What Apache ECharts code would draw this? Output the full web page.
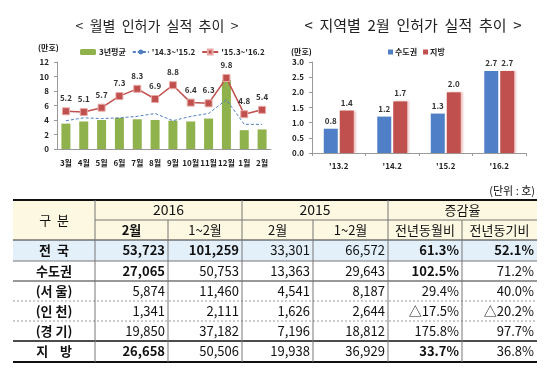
<!DOCTYPE html>
<html><head><meta charset="utf-8">
<script src="https://cdn.jsdelivr.net/npm/echarts@6/dist/echarts.min.js"></script>
<style>html,body{margin:0;padding:0;background:#fff}#c{width:560px;height:370px}</style>
</head><body><div id="c"></div>
<script>
// ---- Left chart data ----
const months = ['3월','4월','5월','6월','7월','8월','9월','10월','11월','12월','1월','2월'];
const avg3y = [3.5, 3.8, 4.0, 4.3, 4.1, 4.0, 3.9, 3.8, 4.2, 9.5, 2.6, 2.7];
const y1415 = [3.9, 4.3, 4.2, 4.3, 4.5, 4.9, 3.9, 4.5, 4.9, 6.8, 3.4, 3.4];
const y1516 = [5.2, 5.1, 5.7, 7.3, 8.3, 6.9, 8.8, 6.4, 6.3, 9.8, 4.8, 5.4];
const leftNames = ['3년평균', "'14.3~'15.2", "'15.3~'16.2"];
// ---- Right chart data ----
const years = ["'13.2", "'14.2", "'15.2", "'16.2"];
const capital = [0.8, 1.2, 1.3, 2.7];
const regions = [1.4, 1.7, 2.0, 2.7];
const rightNames = ['수도권', '지방'];
// ---- Table data ----
const rowLabels = ['전  국', '수도권', '(서 울)', '(인 천)', '(경 기)', '지    방'];
const feb2016 = [53723, 27065, 5874, 1341, 19850, 26658];
const cum2016 = [101259, 50753, 11460, 2111, 37182, 50506];
const feb2015 = [33301, 13363, 4541, 1626, 7196, 19938];
const cum2015 = [66572, 29643, 8187, 2644, 18812, 36929];
const yoyMonth = [61.3, 102.5, 29.4, -17.5, 175.8, 33.7];
const yoyCum = [52.1, 71.2, 40.0, -20.2, 97.7, 36.8];
const headTop = ['구  분', '2016', '2015', '증감율'];
const headSub = ['2월', '1~2월', '2월', '1~2월', '전년동월비', '전년동기비'];
const unitText = '(단위 : 호)';

const KR = "Noto Sans CJK KR";
const chart = echarts.init(document.getElementById('c'), null, {renderer: 'canvas'});

// ---- table graphic ----
const colX = [13, 95, 168, 242, 313, 388, 462, 537];
const rowY = [200, 220, 240, 261, 281, 301, 321, 341, 362];
const g = [];
function hline(y, x1, x2, w, color, dash) {
  g.push({type: 'line', shape: {x1: x1, y1: y, x2: x2, y2: y}, style: {stroke: color, lineWidth: w, lineDash: dash || null}, z: 10});
}
function vline(x, y1, y2) {
  g.push({type: 'line', shape: {x1: x, y1: y1, x2: x, y2: y2}, style: {stroke: '#777', lineWidth: 1}, z: 10});
}
function txt(s, x, y, align, bold, size) {
  g.push({type: 'text', x: x, y: y, z: 11, style: {text: s, fill: '#111', textAlign: align, textVerticalAlign: 'middle',
    fontFamily: KR, fontSize: size || 13, fontWeight: bold ? 'bold' : 'normal'}});
}
g.push({type: 'rect', shape: {x: colX[0], y: rowY[0], width: colX[7] - colX[0], height: rowY[2] - rowY[0]}, style: {fill: '#fcf8e2'}, z: 5});
g.push({type: 'rect', shape: {x: colX[0], y: rowY[2], width: colX[7] - colX[0], height: rowY[3] - rowY[2]}, style: {fill: '#e3f0fa'}, z: 5});
hline(rowY[0], colX[0], colX[7], 2, '#111');
hline(rowY[1], colX[1], colX[7], 1, '#777');
hline(rowY[2], colX[0], colX[7], 1.2, '#333');
hline(rowY[3], colX[0], colX[7], 1, '#777');
hline(rowY[4], colX[0], colX[7], 1.2, '#333');
hline(rowY[5], colX[0], colX[7], 1, '#999', [2, 2]);
hline(rowY[6], colX[0], colX[7], 1, '#999', [2, 2]);
hline(rowY[7], colX[0], colX[7], 1.5, '#111');
hline(rowY[8], colX[0], colX[7], 2, '#111');
vline(colX[1], rowY[0], rowY[8]);
vline(colX[3], rowY[0], rowY[8]);
vline(colX[5], rowY[0], rowY[8]);
vline(colX[2], rowY[1], rowY[8]);
vline(colX[4], rowY[1], rowY[8]);
vline(colX[6], rowY[1], rowY[8]);
txt(unitText, 535, 191, 'right', false, 11);
txt(headTop[0], (colX[0] + colX[1]) / 2, (rowY[0] + rowY[2]) / 2, 'center', false, 13);
txt(headTop[1], (colX[1] + colX[3]) / 2, (rowY[0] + rowY[1]) / 2, 'center', false, 14);
txt(headTop[2], (colX[3] + colX[5]) / 2, (rowY[0] + rowY[1]) / 2, 'center', false, 14);
txt(headTop[3], (colX[5] + colX[7]) / 2, (rowY[0] + rowY[1]) / 2, 'center', false, 13);
for (let i = 0; i < 6; i++) txt(headSub[i], (colX[i + 1] + colX[i + 2]) / 2, (rowY[1] + rowY[2]) / 2, 'center', i === 0, 13);
const fmt = v => v.toLocaleString('en-US');
const pct = v => (v < 0 ? '△' + Math.abs(v).toFixed(1) : v.toFixed(1)) + '%';
const boldFeb = [true, true, false, false, false, true];
const boldCum = [true, false, false, false, false, false];
const boldM = [true, true, false, false, false, true];
const boldC = [true, false, false, false, false, false];
for (let r = 0; r < 6; r++) {
  const cy = (rowY[r + 2] + rowY[r + 3]) / 2;
  txt(rowLabels[r], (colX[0] + colX[1]) / 2, cy, 'center', true, 13);
  txt(fmt(feb2016[r]), colX[2] - 3, cy, 'right', boldFeb[r], 13);
  txt(fmt(cum2016[r]), colX[3] - 3, cy, 'right', boldCum[r], 13);
  txt(fmt(feb2015[r]), colX[4] - 3, cy, 'right', false, 13);
  txt(fmt(cum2015[r]), colX[5] - 3, cy, 'right', false, 13);
  txt(pct(yoyMonth[r]), colX[6] - 3, cy, 'right', boldM[r], 13);
  txt(pct(yoyCum[r]), colX[7] - 3, cy, 'right', boldC[r], 13);
}
// axis unit labels
txt('(만호)', 38, 48, 'left', true, 8);
txt('(만호)', 291, 52, 'left', true, 8);

const axisFont = {fontFamily: KR, fontSize: 8, fontWeight: 'bold', color: '#222'};

chart.setOption({
  animation: false,
  textStyle: {fontFamily: KR},
  title: [
    {text: '<  월별  인허가  실적  추이  >', left: 152, top: 14, textAlign: 'center',
      textStyle: {fontFamily: KR, fontSize: 14, fontWeight: 'normal', color: '#222'}},
    {text: '<  지역별  2월  인허가  실적  추이  >', left: 408, top: 13, textAlign: 'center',
      textStyle: {fontFamily: KR, fontSize: 15, fontWeight: 'normal', color: '#222'}}
  ],
  legend: [
    {data: leftNames, left: 75, top: 43, itemWidth: 16, itemHeight: 6, itemGap: 6,
      textStyle: {fontFamily: KR, fontSize: 8, fontWeight: 'bold', color: '#222', padding: [0, 0, 0, -2]}},
    {data: rightNames, left: 383, top: 43, itemWidth: 5, itemHeight: 5, itemGap: 6, icon: 'rect',
      textStyle: {fontFamily: KR, fontSize: 8, fontWeight: 'bold', color: '#222', padding: [0, 0, 0, -3]}}
  ],
  grid: [
    {left: 57, right: 289, top: 62, bottom: 221},
    {left: 312, right: 34, top: 62, bottom: 217}
  ],
  xAxis: [
    {type: 'category', gridIndex: 0, data: months,
      axisLine: {lineStyle: {color: '#999'}}, axisTick: {show: false},
      axisLabel: Object.assign({margin: 10, interval: 0}, axisFont)},
    {type: 'category', gridIndex: 1, data: years,
      axisLine: {lineStyle: {color: '#999'}}, axisTick: {show: true, length: 3, lineStyle: {color: '#999'}},
      axisLabel: Object.assign({margin: 9, interval: 0}, axisFont)}
  ],
  yAxis: [
    {type: 'value', gridIndex: 0, min: 0, max: 12, interval: 2,
      axisLine: {show: true, lineStyle: {color: '#999'}}, axisTick: {show: true, length: 3, lineStyle: {color: '#999'}},
      splitLine: {show: false}, axisLabel: Object.assign({margin: 8}, axisFont)},
    {type: 'value', gridIndex: 1, min: 0, max: 3, interval: 0.5,
      axisLine: {show: true, lineStyle: {color: '#999'}}, axisTick: {show: true, length: 3, lineStyle: {color: '#999'}},
      splitLine: {show: false}, axisLabel: Object.assign({margin: 8, formatter: v => v.toFixed(1)}, axisFont)}
  ],
  series: [
    {name: leftNames[0], type: 'bar', xAxisIndex: 0, yAxisIndex: 0, data: avg3y, barWidth: 9,
      itemStyle: {color: '#8fb24c'}},
    {name: leftNames[1], type: 'line', xAxisIndex: 0, yAxisIndex: 0, data: y1415, symbol: 'none',
      lineStyle: {color: '#4f7fc0', width: 1, type: [3, 2]}, itemStyle: {color: '#4f7fc0'}},
    {name: leftNames[2], type: 'line', xAxisIndex: 0, yAxisIndex: 0, data: y1516, symbol: 'rect', symbolSize: 7,
      lineStyle: {color: '#c0504d', width: 1.5}, itemStyle: {color: '#c0504d', borderColor: '#e8a9a7', borderWidth: 1},
      label: {show: true, position: 'top', distance: 5, fontFamily: KR, fontSize: 8, fontWeight: 'bold', color: '#333',
        formatter: p => p.value.toFixed(1)}},
    {name: rightNames[0], type: 'bar', xAxisIndex: 1, yAxisIndex: 1, data: capital, barWidth: 14, barGap: '14%',
      itemStyle: {color: '#4f7fc6'},
      label: {show: true, position: 'top', distance: 4, fontFamily: KR, fontSize: 8, fontWeight: 'bold', color: '#333',
        formatter: p => p.value.toFixed(1)}},
    {name: rightNames[1], type: 'bar', xAxisIndex: 1, yAxisIndex: 1, data: regions, barWidth: 14,
      itemStyle: {color: '#c0504d', shadowColor: 'rgba(200,90,90,0.35)', shadowOffsetX: 2, shadowBlur: 2},
      label: {show: true, position: 'top', distance: 4, fontFamily: KR, fontSize: 8, fontWeight: 'bold', color: '#333',
        formatter: p => p.value.toFixed(1)}}
  ],
  graphic: g
});
</script></body></html>
